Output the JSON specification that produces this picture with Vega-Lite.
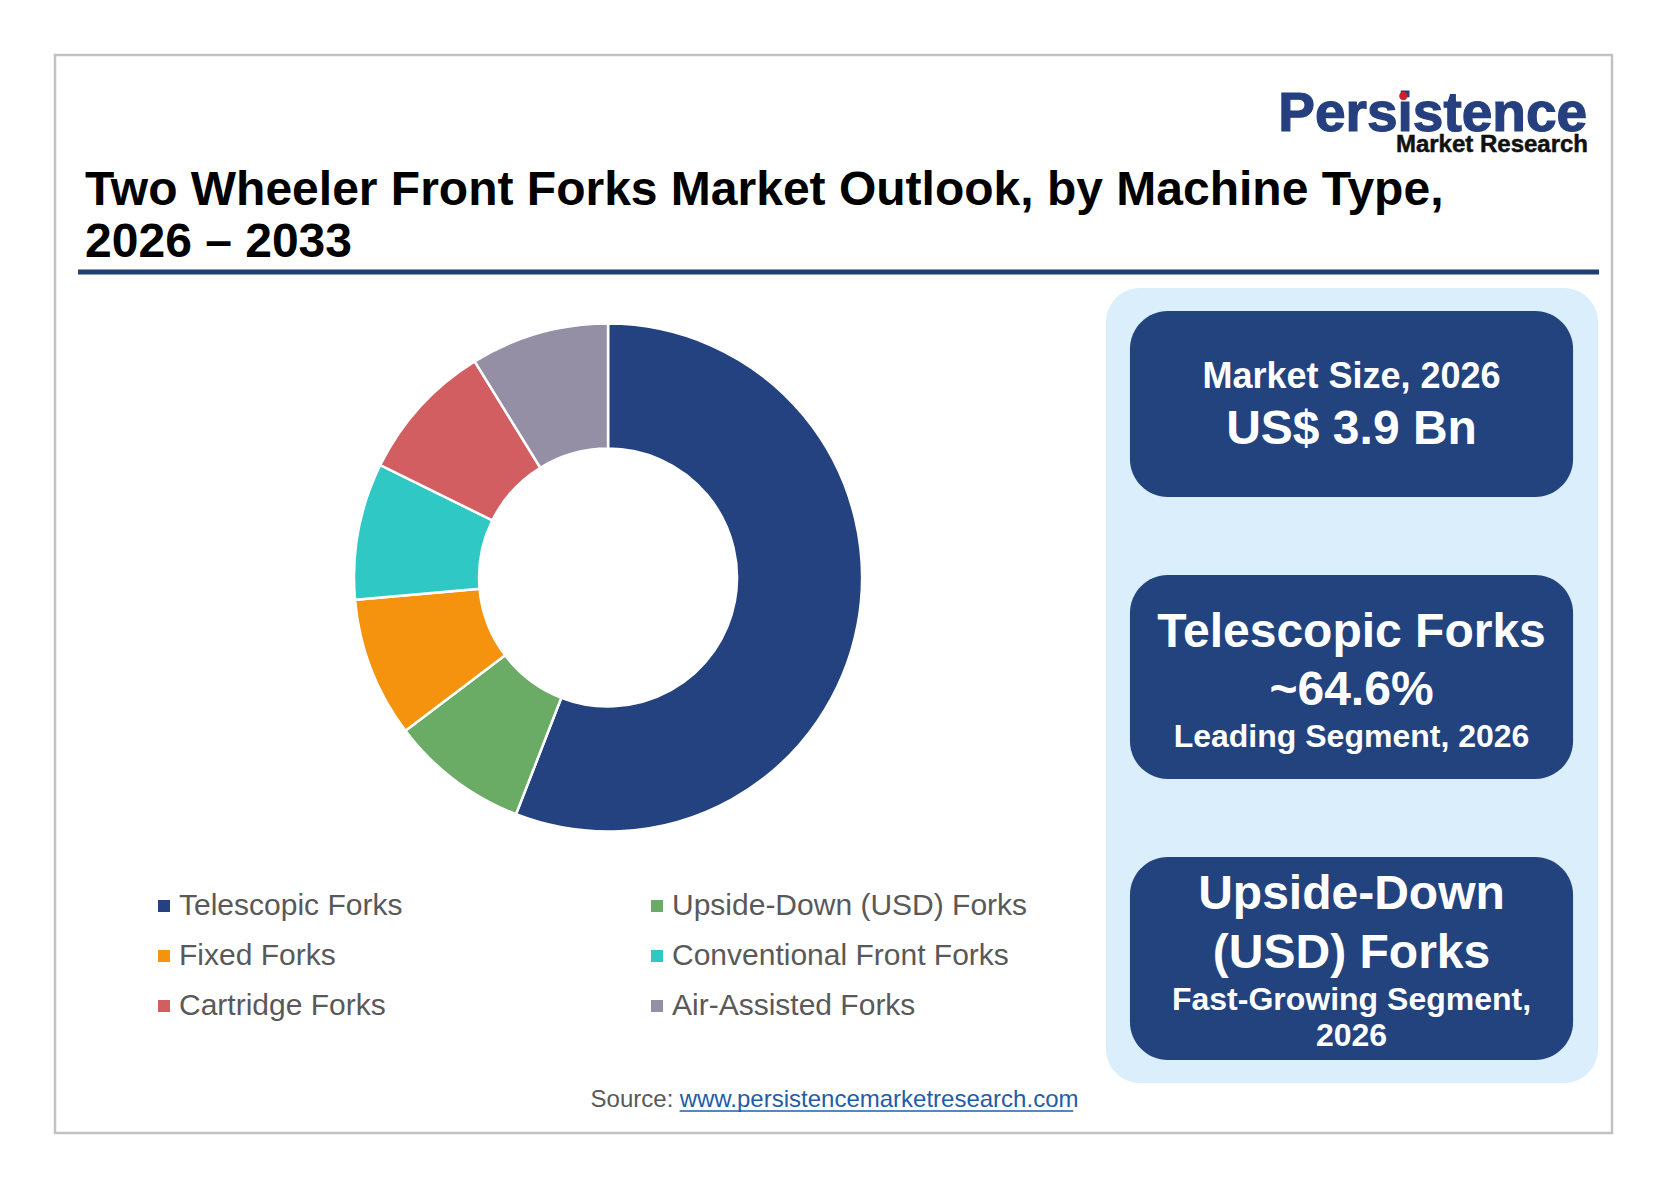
{
  "$schema": "https://vega.github.io/schema/vega-lite/v6.json",
  "description": "Two Wheeler Front Forks Market Outlook, by Machine Type, donut with key figures",
  "width": 1557,
  "height": 1078,
  "autosize": {"type": "none"},
  "padding": {"left": 55, "top": 55, "right": 56, "bottom": 55},
  "background": "white",
  "layer": [
    {
      "data": {"values": [{}]},
      "mark": {"type": "rect", "fill": "#DAEEFB", "cornerRadius": 34},
      "encoding": {
        "x": {"datum": 67.5, "type": "quantitative", "scale": {"domain": [0, 100]}, "axis": null},
        "x2": {"datum": 99.1},
        "y": {"datum": 21.61, "type": "quantitative", "scale": {"domain": [0, 100], "reverse": true}, "axis": null},
        "y2": {"datum": 95.36}
      }
    },
    {
      "data": {"values": [{}]},
      "mark": {"type": "rect", "fill": "#23437F", "cornerRadius": 38},
      "encoding": {
        "x": {"datum": 69.04, "type": "quantitative", "scale": {"domain": [0, 100]}, "axis": null},
        "x2": {"datum": 97.5},
        "y": {"datum": 23.75, "type": "quantitative", "scale": {"domain": [0, 100], "reverse": true}, "axis": null},
        "y2": {"datum": 41.0}
      }
    },
    {
      "data": {"values": [{}]},
      "mark": {"type": "rect", "fill": "#23437F", "cornerRadius": 38},
      "encoding": {
        "x": {"datum": 69.04, "type": "quantitative", "scale": {"domain": [0, 100]}, "axis": null},
        "x2": {"datum": 97.5},
        "y": {"datum": 48.24, "type": "quantitative", "scale": {"domain": [0, 100], "reverse": true}, "axis": null},
        "y2": {"datum": 67.16}
      }
    },
    {
      "data": {"values": [{}]},
      "mark": {"type": "rect", "fill": "#23437F", "cornerRadius": 38},
      "encoding": {
        "x": {"datum": 69.04, "type": "quantitative", "scale": {"domain": [0, 100]}, "axis": null},
        "x2": {"datum": 97.5},
        "y": {"datum": 74.4, "type": "quantitative", "scale": {"domain": [0, 100], "reverse": true}, "axis": null},
        "y2": {"datum": 93.23}
      }
    },
    {
      "data": {"values": [{}]},
      "mark": {"type": "rule", "color": "#1F3E72", "strokeWidth": 5},
      "encoding": {
        "x": {"datum": 1.48, "type": "quantitative", "scale": {"domain": [0, 100]}, "axis": null},
        "x2": {"datum": 99.17},
        "y": {"datum": 20.13, "type": "quantitative", "scale": {"domain": [0, 100], "reverse": true}, "axis": null}
      }
    },
    {
      "data": {"values": [{}]},
      "mark": {"type": "text", "text": "Persistence", "font": "Liberation Sans", "fontWeight": "bold", "fontSize": 55, "color": "#253F7F", "stroke": "#253F7F", "strokeWidth": 1.2, "align": "right", "baseline": "alphabetic"},
      "encoding": {
        "x": {"datum": 98.4, "type": "quantitative", "scale": {"domain": [0, 100]}, "axis": null},
        "y": {"datum": 7.05, "type": "quantitative", "scale": {"domain": [0, 100], "reverse": true}, "axis": null}
      }
    },
    {
      "data": {"values": [{}]},
      "mark": {"type": "point", "filled": true, "shape": "circle", "size": 70, "color": "#D0202E", "opacity": 1},
      "encoding": {
        "x": {"datum": 86.6, "type": "quantitative", "scale": {"domain": [0, 100]}, "axis": null},
        "y": {"datum": 3.8, "type": "quantitative", "scale": {"domain": [0, 100], "reverse": true}, "axis": null}
      }
    },
    {
      "data": {"values": [{}]},
      "mark": {"type": "text", "text": "Market Research", "font": "Liberation Sans", "fontWeight": "bold", "fontSize": 24, "color": "#111111", "stroke": "#111111", "strokeWidth": 0.5, "align": "right", "baseline": "alphabetic"},
      "encoding": {
        "x": {"datum": 98.46, "type": "quantitative", "scale": {"domain": [0, 100]}, "axis": null},
        "y": {"datum": 8.96, "type": "quantitative", "scale": {"domain": [0, 100], "reverse": true}, "axis": null}
      }
    },
    {
      "data": {"values": [{}]},
      "mark": {"type": "text", "text": ["Two Wheeler Front Forks Market Outlook, by Machine Type,", "2026 – 2033"], "lineHeight": 52, "font": "Liberation Sans", "fontWeight": "bold", "fontSize": 48, "color": "#000000", "align": "left", "baseline": "alphabetic"},
      "encoding": {
        "x": {"datum": 1.93, "type": "quantitative", "scale": {"domain": [0, 100]}, "axis": null},
        "y": {"datum": 13.92, "type": "quantitative", "scale": {"domain": [0, 100], "reverse": true}, "axis": null}
      }
    },
    {
      "data": {
        "values": [
          {"segment": "Telescopic Forks", "share": 55.9},
          {"segment": "Upside-Down (USD) Forks", "share": 8.8},
          {"segment": "Fixed Forks", "share": 8.9},
          {"segment": "Conventional Front Forks", "share": 8.7},
          {"segment": "Cartridge Forks", "share": 8.9},
          {"segment": "Air-Assisted Forks", "share": 8.8}
        ]
      },
      "transform": [{"window": [{"op": "row_number", "as": "seq"}]}],
      "mark": {"type": "arc", "outerRadius": 254, "innerRadius": 129, "stroke": "white", "strokeWidth": 2.5},
      "encoding": {
        "theta": {"field": "share", "type": "quantitative", "stack": true},
        "order": {"field": "seq", "type": "quantitative"},
        "x": {"datum": 35.52, "type": "quantitative", "scale": {"domain": [0, 100]}, "axis": null},
        "y": {"datum": 48.47, "type": "quantitative", "scale": {"domain": [0, 100], "reverse": true}, "axis": null},
        "color": {
          "field": "segment",
          "type": "nominal",
          "scale": {
            "domain": ["Telescopic Forks", "Upside-Down (USD) Forks", "Fixed Forks", "Conventional Front Forks", "Cartridge Forks", "Air-Assisted Forks"],
            "range": ["#23427F", "#6AAB65", "#F5920E", "#2FC8C4", "#D35E62", "#958FA6"]
          },
          "legend": {
            "title": null,
            "orient": "none",
            "legendX": 94,
            "legendY": 836,
            "direction": "horizontal",
            "columns": 2,
            "columnPadding": 239,
            "rowPadding": 20,
            "symbolType": "square",
            "symbolSize": 144,
            "symbolStrokeWidth": 0,
            "labelFont": "Liberation Sans",
            "labelFontSize": 30,
            "labelColor": "#595959",
            "labelOffset": 0,
            "labelLimit": 600,
            "padding": 0
          }
        }
      }
    },
    {
      "data": {"values": [{}]},
      "mark": {"type": "text", "text": "Market Size, 2026", "font": "Liberation Sans", "fontWeight": "bold", "fontSize": 36, "color": "white", "align": "center", "baseline": "alphabetic"},
      "encoding": {
        "x": {"datum": 83.27, "type": "quantitative", "scale": {"domain": [0, 100]}, "axis": null},
        "y": {"datum": 30.89, "type": "quantitative", "scale": {"domain": [0, 100], "reverse": true}, "axis": null}
      }
    },
    {
      "data": {"values": [{}]},
      "mark": {"type": "text", "text": "US$ 3.9 Bn", "font": "Liberation Sans", "fontWeight": "bold", "fontSize": 48, "color": "white", "align": "center", "baseline": "alphabetic"},
      "encoding": {
        "x": {"datum": 83.27, "type": "quantitative", "scale": {"domain": [0, 100]}, "axis": null},
        "y": {"datum": 36.09, "type": "quantitative", "scale": {"domain": [0, 100], "reverse": true}, "axis": null}
      }
    },
    {
      "data": {"values": [{}]},
      "mark": {"type": "text", "text": ["Telescopic Forks", "~64.6%"], "lineHeight": 58, "font": "Liberation Sans", "fontWeight": "bold", "fontSize": 48, "color": "white", "align": "center", "baseline": "alphabetic"},
      "encoding": {
        "x": {"datum": 83.27, "type": "quantitative", "scale": {"domain": [0, 100]}, "axis": null},
        "y": {"datum": 54.92, "type": "quantitative", "scale": {"domain": [0, 100], "reverse": true}, "axis": null}
      }
    },
    {
      "data": {"values": [{}]},
      "mark": {"type": "text", "text": "Leading Segment, 2026", "font": "Liberation Sans", "fontWeight": "bold", "fontSize": 32, "color": "white", "align": "center", "baseline": "alphabetic"},
      "encoding": {
        "x": {"datum": 83.27, "type": "quantitative", "scale": {"domain": [0, 100]}, "axis": null},
        "y": {"datum": 64.19, "type": "quantitative", "scale": {"domain": [0, 100], "reverse": true}, "axis": null}
      }
    },
    {
      "data": {"values": [{}]},
      "mark": {"type": "text", "text": ["Upside-Down", "(USD) Forks"], "lineHeight": 59, "font": "Liberation Sans", "fontWeight": "bold", "fontSize": 48, "color": "white", "align": "center", "baseline": "alphabetic"},
      "encoding": {
        "x": {"datum": 83.27, "type": "quantitative", "scale": {"domain": [0, 100]}, "axis": null},
        "y": {"datum": 79.22, "type": "quantitative", "scale": {"domain": [0, 100], "reverse": true}, "axis": null}
      }
    },
    {
      "data": {"values": [{}]},
      "mark": {"type": "text", "text": ["Fast-Growing Segment,", "2026"], "lineHeight": 36, "font": "Liberation Sans", "fontWeight": "bold", "fontSize": 32, "color": "white", "align": "center", "baseline": "alphabetic"},
      "encoding": {
        "x": {"datum": 83.27, "type": "quantitative", "scale": {"domain": [0, 100]}, "axis": null},
        "y": {"datum": 88.59, "type": "quantitative", "scale": {"domain": [0, 100], "reverse": true}, "axis": null}
      }
    },
    {
      "data": {"values": [{}]},
      "mark": {"type": "text", "text": "Source:", "font": "Liberation Sans", "fontSize": 24, "color": "#595959", "align": "left", "baseline": "alphabetic"},
      "encoding": {
        "x": {"datum": 34.4, "type": "quantitative", "scale": {"domain": [0, 100]}, "axis": null},
        "y": {"datum": 97.59, "type": "quantitative", "scale": {"domain": [0, 100], "reverse": true}, "axis": null}
      }
    },
    {
      "data": {"values": [{}]},
      "mark": {"type": "text", "text": "www.persistencemarketresearch.com", "font": "Liberation Sans", "fontSize": 24, "color": "#1F5DA8", "align": "left", "baseline": "alphabetic"},
      "encoding": {
        "x": {"datum": 40.12, "type": "quantitative", "scale": {"domain": [0, 100]}, "axis": null},
        "y": {"datum": 97.59, "type": "quantitative", "scale": {"domain": [0, 100], "reverse": true}, "axis": null}
      }
    },
    {
      "data": {"values": [{}]},
      "mark": {"type": "rule", "color": "#1F5DA8", "strokeWidth": 1.5},
      "encoding": {
        "x": {"datum": 40.12, "type": "quantitative", "scale": {"domain": [0, 100]}, "axis": null},
        "x2": {"datum": 65.4},
        "y": {"datum": 97.96, "type": "quantitative", "scale": {"domain": [0, 100], "reverse": true}, "axis": null}
      }
    }
  ],
  "config": {
    "view": {"stroke": "#C2C2C2", "strokeWidth": 2.5},
    "font": "Liberation Sans"
  }
}
